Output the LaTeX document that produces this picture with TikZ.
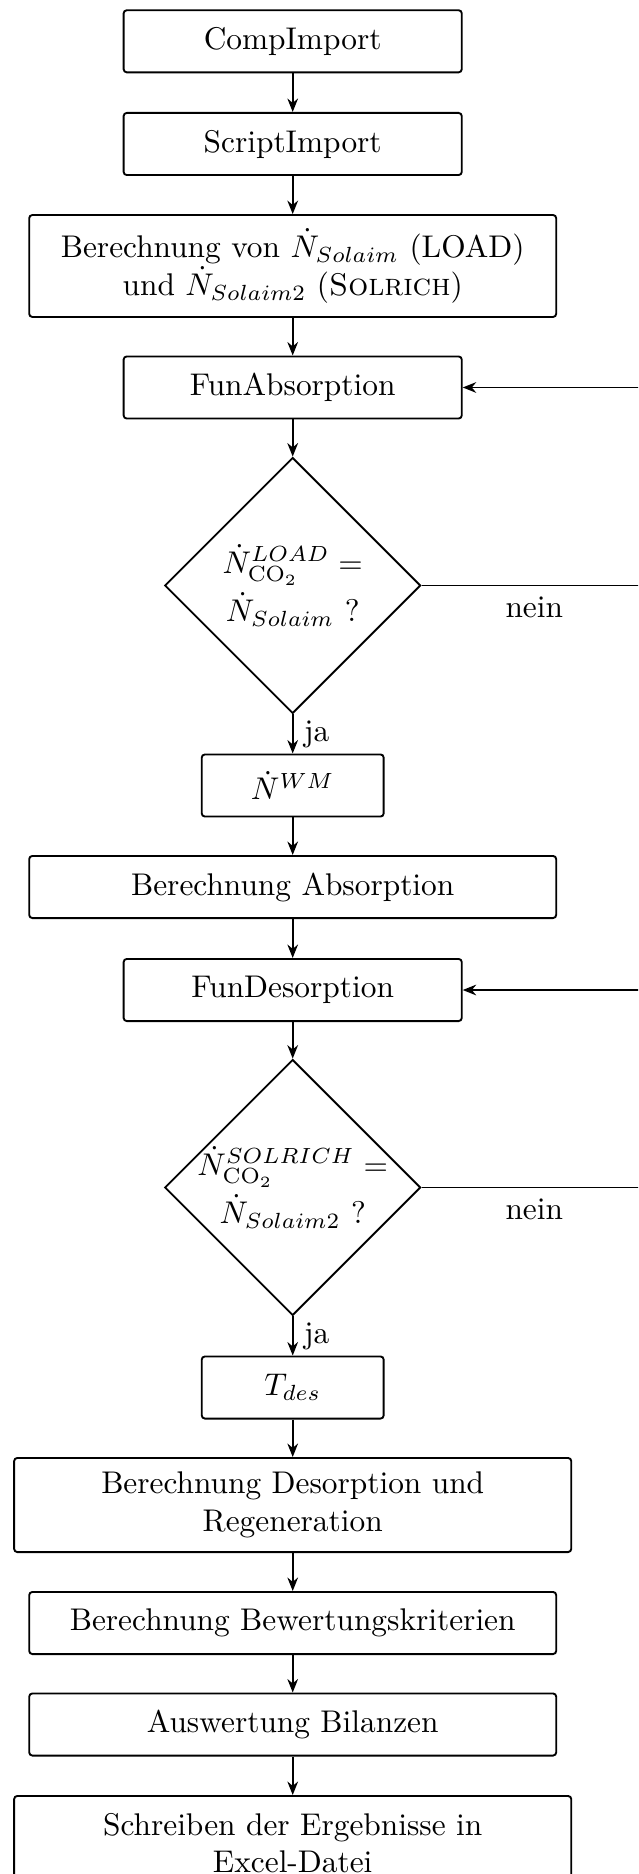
\documentclass[tikz,border=0pt]{standalone}
\usetikzlibrary{shapes.geometric,arrows.meta}
\begin{document}
\begin{tikzpicture}[x=0.3188pt,y=-0.3188pt,
  box/.style={draw, rounded corners=1pt, line width=0.6pt, minimum width=107.8pt, minimum height=19.8pt, align=center, inner sep=2pt},
  wbox/.style={box, minimum width=168pt},
  xbox/.style={box, minimum width=177.6pt, minimum height=30pt},
  sbox/.style={box, minimum width=58pt},
  dia/.style={draw, diamond, aspect=1, minimum width=81.6pt, minimum height=81.6pt, inner sep=0pt, line width=0.6pt},
  diatext/.style={align=center, inner sep=0pt},
  arr/.style={-{Stealth[length=4.3pt,width=3.4pt]}, line width=0.6pt},
  lbl/.style={inner sep=3.33pt}
]
\path[use as bounding box, clip] (0,0) rectangle (638,1874);

\node[box] (c1) at (292.7,41.3) {CompImport};
\node[box] (c2) at (292.7,144) {ScriptImport};
\node[wbox, minimum height=32.5pt] (c3) at (292.7,266) {Berechnung von $\dot{N}_{Solaim}$ (LOAD)\\ und $\dot{N}_{Solaim2}$ (\textsc{Solrich})};
\node[box] (fa) at (292.7,387.5) {FunAbsorption};
\node[dia] (d1) at (292.7,585.5) {};
\node[diatext] (t1) at (292.7,585.5) {$\dot{N}^{LOAD}_{\mathrm{CO_2}} =$\\[1.5pt] $\dot{N}_{Solaim}$ ?};
\node[sbox] (nwm) at (292.7,785.5) {$\dot{N}^{WM}$};
\node[wbox] (ba) at (292.7,887) {Berechnung Absorption};
\node[box] (fd) at (292.7,990) {FunDesorption};
\node[dia] (d2) at (292.7,1187.5) {};
\node[diatext] (t2) at (292.7,1187.5) {$\dot{N}^{SOLRICH}_{\mathrm{CO_2}} =$\\[1.5pt] $\dot{N}_{Solaim2}$ ?};
\node[sbox] (td) at (292.7,1387.5) {$T_{des}$};
\node[xbox] (bd) at (292.7,1505) {Berechnung Desorption und\\ Regeneration};
\node[wbox] (bb) at (292.7,1623) {Berechnung Bewertungskriterien};
\node[wbox] (ab) at (292.7,1724.5) {Auswertung Bilanzen};
\node[xbox] (se) at (292.7,1843) {Schreiben der Ergebnisse in\\ Excel-Datei};

\coordinate (k1) at (647,585.5);
\coordinate (k2) at (647,1187.5);

\draw[arr] (c1) -- (c2);
\draw[arr] (c2) -- (c3);
\draw[arr] (c3) -- (fa);
\draw[arr] (fa) -- (d1);
\draw[arr] (d1) -- node[right,lbl] {ja} (nwm);
\draw[arr] (d1.east) -- node[below,lbl] {nein} (k1) |- (fa.east);
\draw[arr] (nwm) -- (ba);
\draw[arr] (ba) -- (fd);
\draw[arr] (fd) -- (d2);
\draw[arr] (d2) -- node[right,lbl] {ja} (td);
\draw[arr] (d2.east) -- node[below,lbl] {nein} (k2) |- (fd.east);
\draw[arr] (td) -- (bd);
\draw[arr] (bd) -- (bb);
\draw[arr] (bb) -- (ab);
\draw[arr] (ab) -- (se);
\end{tikzpicture}
\end{document}
